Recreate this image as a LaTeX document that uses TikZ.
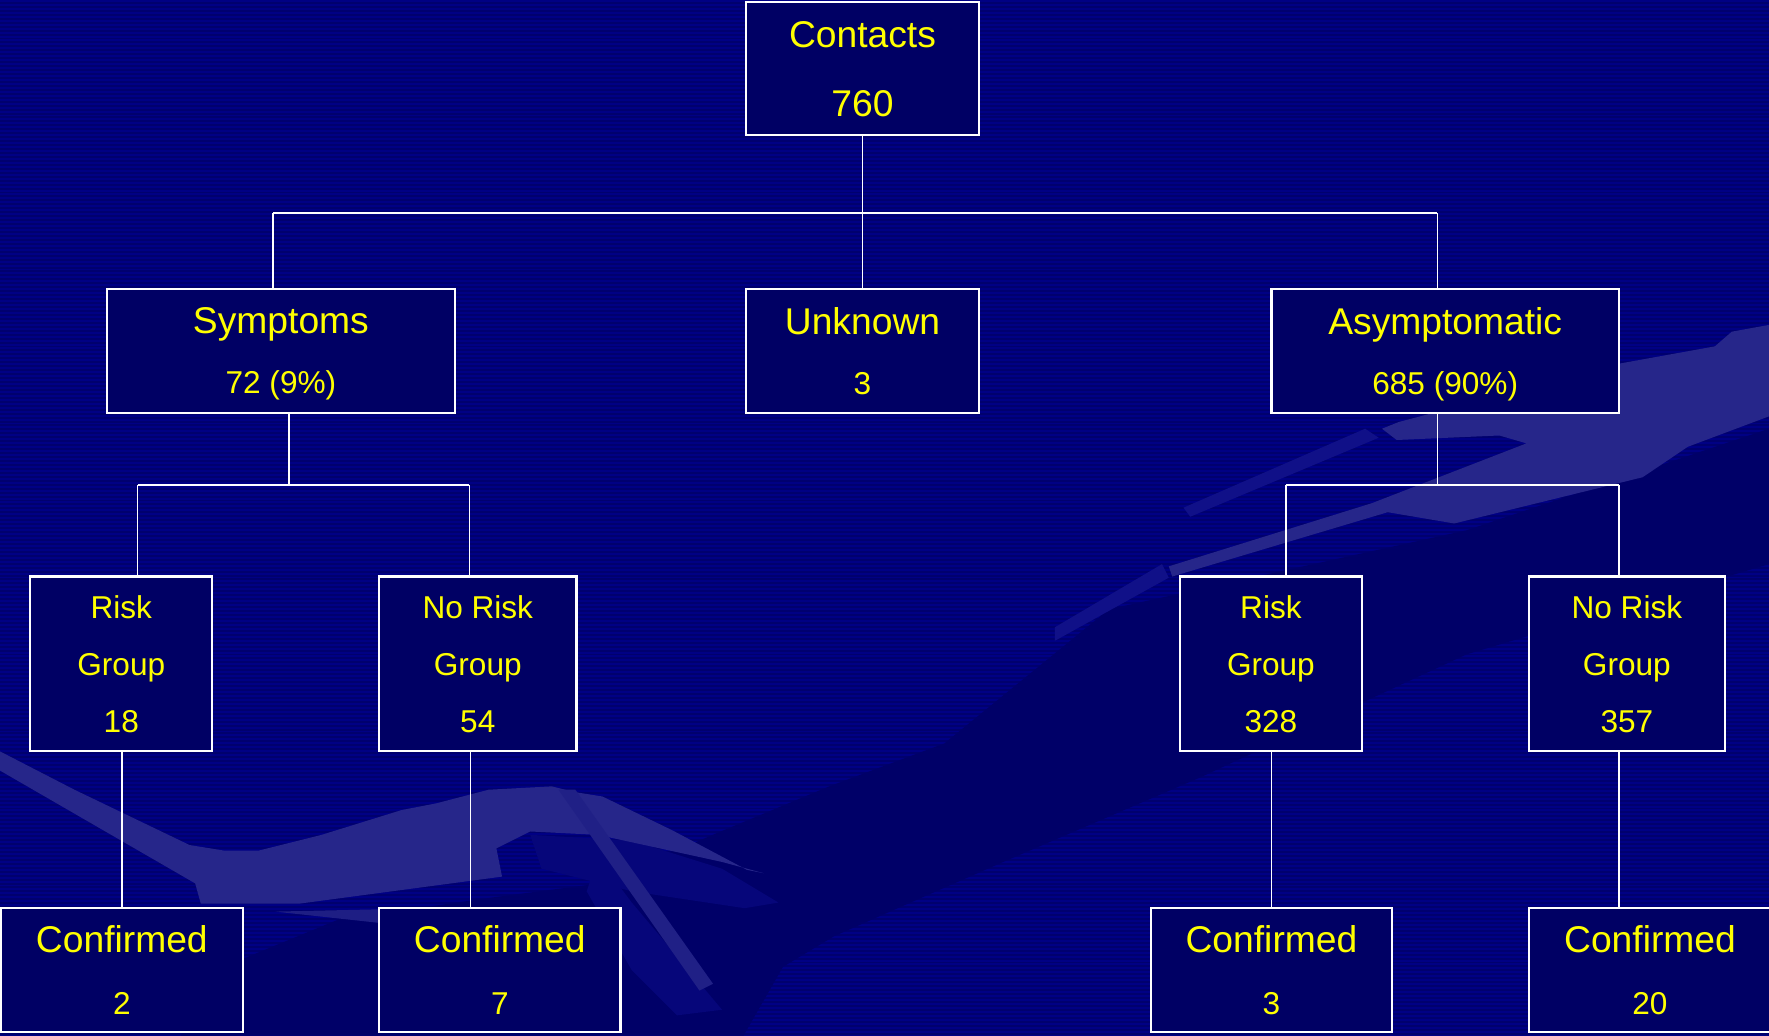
\documentclass[tikz,border=0pt]{standalone}
\usepackage{fontspec}
\setmainfont{Liberation Sans}
\definecolor{bgA}{RGB}{0,0,110}
\definecolor{bgB}{RGB}{0,0,132}
\definecolor{bgDark}{RGB}{0,0,104}
\definecolor{boxfill}{RGB}{0,0,100}
\definecolor{swoosh}{RGB}{38,38,138}
\definecolor{swooshB}{RGB}{16,16,136}
\definecolor{feather}{RGB}{6,6,122}
\definecolor{txt}{RGB}{255,255,0}
\newcommand{\smallline}[1]{{\fontsize{28}{50}\selectfont #1}}
\begin{document}
\begin{tikzpicture}[x=1pt,y=-1pt,
  box/.style={draw=white,line width=1.8pt,fill=boxfill,inner sep=0pt,align=center,text=txt},
  sz/.style 2 args={minimum width=#1 pt,minimum height=#2 pt},
  twoline/.style={font=\fontsize{33}{#1}\selectfont},
  threeline/.style={font=\fontsize{28}{50.5}\selectfont},
  link/.style={draw=white,line width=1.4pt}]
\useasboundingbox (0,0) rectangle (1568,918);
% background
\fill[bgA] (0,0) rectangle (1568,918);
\foreach \y in {0,3.5,...,917} \fill[bgB] (0,\y) rectangle (1568,\y+1.75);
\fill[bgDark] (1568,380) -- (1300,470) -- (983,540) -- (837,659) -- (735,697) -- (634,739)
  -- (532,783) -- (440,795) -- (300,815) -- (215,850) -- (160,918) -- (659,918) -- (694,857)
  -- (739,830) -- (798,804) -- (887,765) -- (1064,689) -- (1300,580) -- (1568,500) -- cycle;
% feathers under the left swoosh
\fill[feather] (470,740) -- (560,745) -- (640,770) -- (690,800) -- (660,805) -- (560,790) -- (480,770) -- cycle;
\fill[feather] (530,760) -- (560,800) -- (640,895) -- (600,900) -- (560,860) -- (520,790) -- cycle;
% left swoosh
\fill[swoosh] (0,666) -- (66,700) -- (168,749) -- (199,754) -- (229,754) -- (285,740)
  -- (356,718) -- (387,712) -- (433,700) -- (489,697) -- (509,702) -- (534,706) -- (596,736)
  -- (662,771) -- (677,774) -- (640,764) -- (530,740) -- (470,737) -- (440,752) -- (445,777)
  -- (265,801) -- (178,801) -- (173,783) -- (0,683) -- cycle;
\fill[swoosh!80!bgA] (244,808) -- (336,806) -- (336,818) -- cycle;
\fill[swoosh!85!bgA] (495,700) -- (510,700) -- (632,872) -- (620,878) -- cycle;
% right swoosh
\fill[swoosh] (1036,502) -- (1216,446) -- (1353,393) -- (1329,386) -- (1238,390) -- (1225,380)
  -- (1240,374) -- (1437,322) -- (1520,307) -- (1535,294) -- (1568,288) -- (1568,369)
  -- (1496,396) -- (1456,423) -- (1289,464) -- (1230,454) -- (1039,511) -- cycle;
\fill[swooshB] (1049,450) -- (1210,380) -- (1222,388) -- (1055,458) -- cycle;
\fill[swooshB] (935,556) -- (1030,500) -- (1036,512) -- (935,568) -- cycle;
% boxes
\node[box,sz={207}{118},twoline=61] (contacts) at (764.5,61) {Contacts\\760};
\node[box,sz={308}{110},twoline=53] (symp) at (249,311) {Symptoms\\\smallline{\smash{72 (9\%)}}};
\node[box,sz={207}{110},twoline=53] (unk) at (764.5,311) {Unknown\\\smallline{3}};
\node[box,sz={308}{110},twoline=53] (asym) at (1281,311) {Asymptomatic\\\smallline{\smash{685 (90\%)}}};
\node[box,sz={161}{155},threeline] (rl) at (107.5,588.5) {Risk\\Group\\18};
\node[box,sz={175}{155},threeline] (nrl) at (423.5,588.5) {No Risk\\Group\\54};
\node[box,sz={161}{155},threeline] (rr) at (1126.5,588.5) {Risk\\Group\\328};
\node[box,sz={174}{155},threeline] (nrr) at (1442,588.5) {No Risk\\Group\\357};
\node[box,sz={214}{110},twoline=55] (c1) at (108,860) {Confirmed\\\smallline{2}};
\node[box,sz={214}{110},twoline=55] (c2) at (443,860) {Confirmed\\\smallline{7}};
\node[box,sz={214}{110},twoline=55] (c3) at (1127,860) {Confirmed\\\smallline{3}};
\node[box,sz={215}{110},twoline=55] (c4) at (1462.5,860) {Confirmed\\\smallline{20}};
% junctions
\coordinate (j0) at (764.5,189);
\coordinate (j0l) at (242,189);
\coordinate (j0r) at (1274,189);
\coordinate (j1) at (256,430);
\coordinate (j1l) at (122,430);
\coordinate (j1r) at (416,430);
\coordinate (j2) at (1274,430);
\coordinate (j2l) at (1140,430);
\coordinate (j2r) at (1435,430);
\coordinate (v1) at (108,736);
\coordinate (v2) at (417,736);
\coordinate (v3) at (1127,736);
\coordinate (v4) at (1435,736);
% connectors
\draw[link] (contacts.south) -- (j0);
\draw[link] (j0l) -- (j0r);
\draw[link] (j0l) -- (j0l |- symp.north);
\draw[link] (j0) -- (unk.north);
\draw[link] (j0r) -- (j0r |- asym.north);
\draw[link] (j1 |- symp.south) -- (j1);
\draw[link] (j1l) -- (j1r);
\draw[link] (j1l) -- (j1l |- rl.north);
\draw[link] (j1r) -- (j1r |- nrl.north);
\draw[link] (j2 |- asym.south) -- (j2);
\draw[link] (j2l) -- (j2r);
\draw[link] (j2l) -- (j2l |- rr.north);
\draw[link] (j2r) -- (j2r |- nrr.north);
\draw[link] (v1 |- rl.south) -- (v1 |- c1.north);
\draw[link] (v2 |- nrl.south) -- (v2 |- c2.north);
\draw[link] (v3 |- rr.south) -- (v3 |- c3.north);
\draw[link] (v4 |- nrr.south) -- (v4 |- c4.north);
\end{tikzpicture}
\end{document}
